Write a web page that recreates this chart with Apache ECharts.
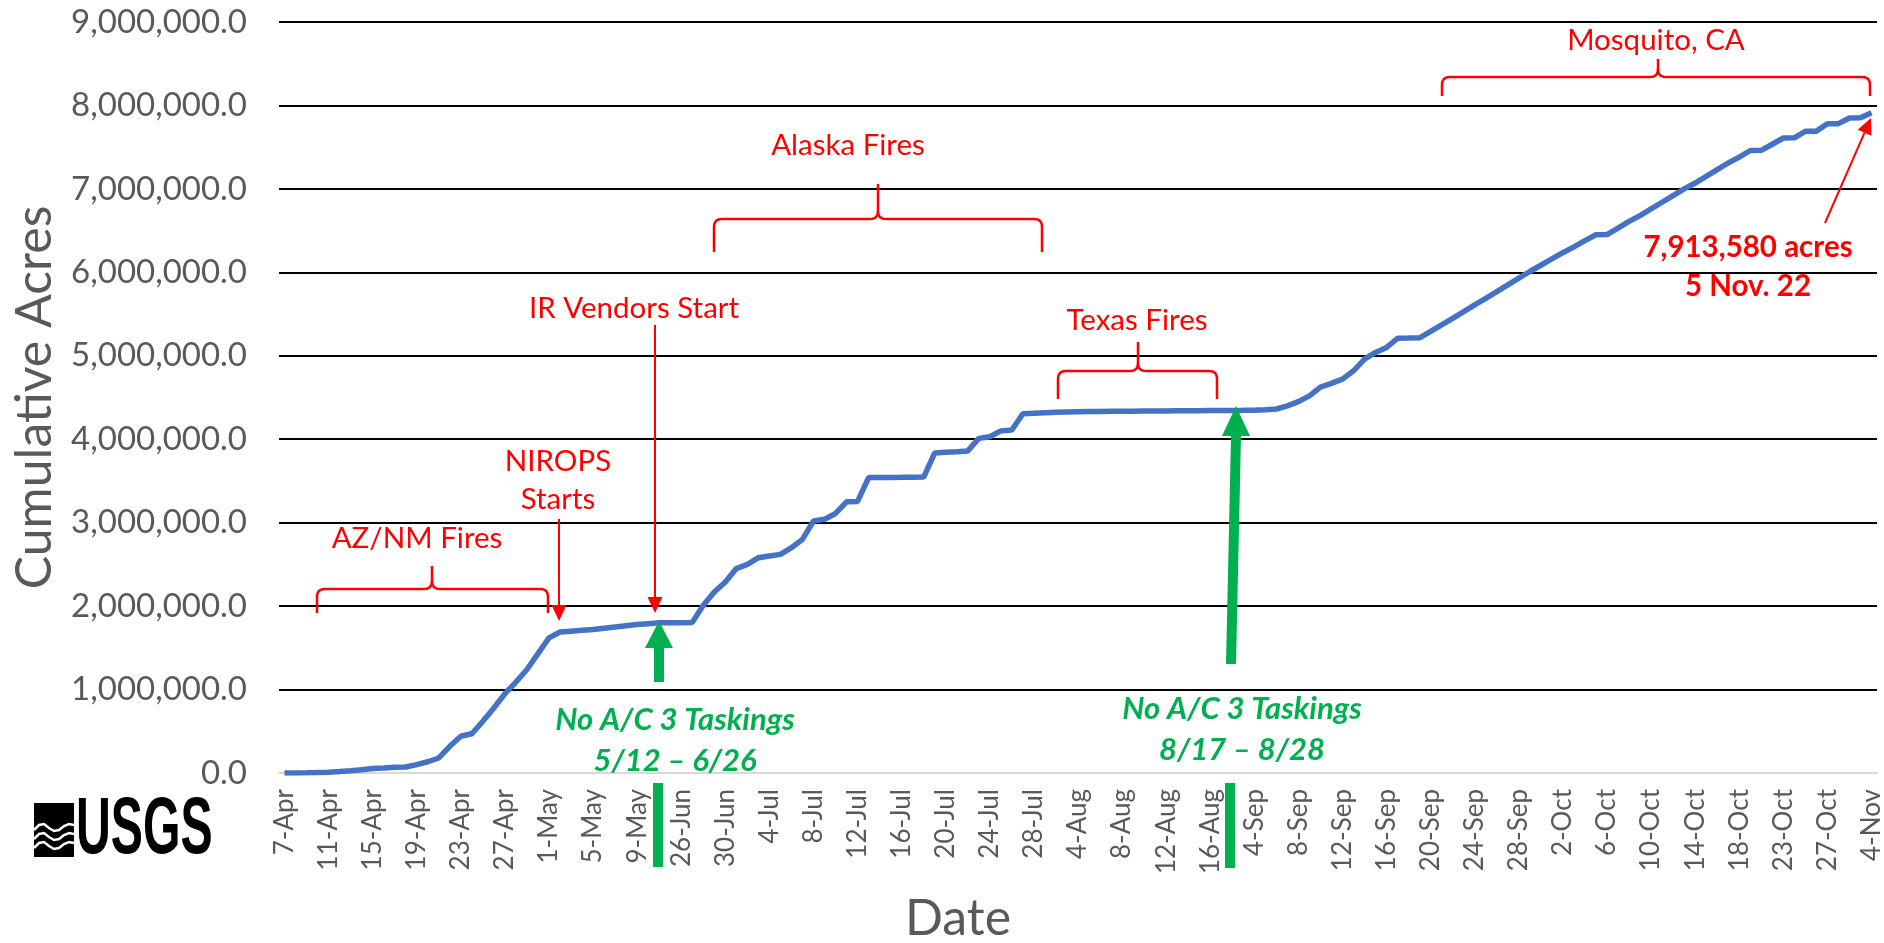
<!DOCTYPE html>
<html><head><meta charset="utf-8">
<script src="https://cdn.jsdelivr.net/npm/echarts@6/dist/echarts.min.js"></script>
<style>html,body{margin:0;padding:0;background:#fff}#chart{width:1884px;height:943px}</style>
</head><body><div id="chart"></div>
<script>
const dates = [
 '7-Apr','8-Apr','9-Apr','10-Apr','11-Apr','12-Apr','13-Apr','14-Apr','15-Apr','16-Apr','17-Apr','18-Apr',
 '19-Apr','20-Apr','21-Apr','22-Apr','23-Apr','24-Apr','25-Apr','26-Apr','27-Apr','28-Apr','29-Apr','30-Apr',
 '1-May','2-May','3-May','4-May','5-May','6-May','7-May','8-May','9-May','10-May','11-May','12-May',
 '26-Jun','27-Jun','28-Jun','29-Jun','30-Jun',
 '1-Jul','2-Jul','3-Jul','4-Jul','5-Jul','6-Jul','7-Jul','8-Jul','9-Jul','10-Jul','11-Jul','12-Jul','13-Jul',
 '14-Jul','15-Jul','16-Jul','17-Jul','18-Jul','19-Jul','20-Jul','21-Jul','22-Jul','23-Jul','24-Jul','25-Jul',
 '26-Jul','27-Jul','28-Jul','29-Jul','30-Jul','31-Jul',
 '4-Aug','5-Aug','6-Aug','7-Aug','8-Aug','9-Aug','10-Aug','11-Aug','12-Aug','13-Aug','14-Aug','15-Aug',
 '16-Aug','17-Aug','30-Aug','1-Sep',
 '4-Sep','5-Sep','6-Sep','7-Sep','8-Sep','9-Sep','10-Sep','11-Sep','12-Sep','13-Sep','14-Sep','15-Sep',
 '16-Sep','17-Sep','18-Sep','19-Sep','20-Sep','21-Sep','22-Sep','23-Sep','24-Sep','25-Sep','26-Sep','27-Sep',
 '28-Sep','29-Sep','30-Sep',
 '1-Oct','2-Oct','3-Oct','4-Oct','5-Oct','6-Oct','7-Oct','8-Oct','9-Oct','10-Oct','11-Oct','12-Oct',
 '13-Oct','14-Oct','15-Oct','16-Oct','17-Oct','18-Oct','19-Oct','20-Oct','21-Oct',
 '23-Oct','24-Oct','25-Oct','26-Oct','27-Oct','28-Oct','30-Oct','31-Oct','4-Nov'
];
const acres = [
 0,1000,3000,6000,10000,18000,28000,40000,55000,60000,68000,72000,
 100000,135000,180000,320000,440000,470000,620000,780000,950000,1090000,1240000,1430000,
 1620000,1690000,1700000,1710000,1720000,1735000,1750000,1765000,1780000,1790000,1800000,1800000,
 1800000,1805000,2010000,2170000,2290000,
 2450000,2500000,2580000,2600000,2620000,2700000,2800000,3020000,3040000,3110000,3250000,3255000,3540000,
 3540000,3542000,3543000,3545000,3546000,3835000,3845000,3850000,3860000,4010000,4030000,4100000,
 4110000,4305000,4312000,4318000,4322000,4326000,
 4330000,4332000,4333000,4334000,4335000,4336000,4337000,4338000,4339000,4340000,4341000,4342000,
 4343000,4344000,4345000,4346000,
 4348000,4352000,4362000,4400000,4450000,4520000,4625000,4670000,4720000,4820000,4960000,5040000,
 5100000,5210000,5212000,5215000,5292000,5370000,5448000,5530000,5610000,5688000,5768000,5850000,
 5930000,6010000,6085000,
 6160000,6235000,6305000,6380000,6450000,6452000,6530000,6610000,6680000,6760000,6840000,6920000,
 7000000,7070000,7150000,7230000,7310000,7380000,7460000,7462000,7535000,
 7610000,7612000,7690000,7692000,7780000,7782000,7850000,7852000,7913580
];
const yTicks = [0,1000000,2000000,3000000,4000000,5000000,6000000,7000000,8000000,9000000];

const RED = '#FF0000', GREEN = '#00B050', GRAY = '#595959';
const FONT = 'Lato';

function txt(text, x, y, size, color, weight, style) {
  return { type: 'text', z: 100, style: {
    text: text, x: x, y: y, fill: color, fontSize: size, fontFamily: FONT,
    fontWeight: weight || 'normal', fontStyle: style || 'normal',
    align: 'center', verticalAlign: 'middle', textAlign: 'center', textVerticalAlign: 'middle' } };
}
function qpts(p0, c, p1, n) {
  const out = [];
  for (let i = 1; i <= n; i++) {
    const t = i / n, a = (1 - t) * (1 - t), b = 2 * t * (1 - t), d = t * t;
    out.push([a * p0[0] + b * c[0] + d * p1[0], a * p0[1] + b * c[1] + d * p1[1]]);
  }
  return out;
}
function brace(x1, x2, yH, yEnd, tipX, tipY) {
  const r = 8;
  const left = [[x1, yEnd], [x1, yH + r]].concat(qpts([x1, yH + r], [x1, yH], [x1 + r, yH], 6))
    .concat([[tipX - r, yH]]).concat(qpts([tipX - r, yH], [tipX, yH], [tipX, yH - r], 6)).concat([[tipX, tipY]]);
  const right = [[tipX, yH - r]].concat(qpts([tipX, yH - r], [tipX, yH], [tipX + r, yH], 6))
    .concat([[x2 - r, yH]]).concat(qpts([x2 - r, yH], [x2, yH], [x2, yH + r], 6)).concat([[x2, yEnd]]);
  const st = { fill: null, stroke: RED, lineWidth: 2.5 };
  return [
    { type: 'polyline', z: 100, shape: { points: left }, style: st },
    { type: 'polyline', z: 100, shape: { points: right }, style: st }
  ];
}
function redArrow(x1, y1, x2, y2) {
  const dx = x2 - x1, dy = y2 - y1, L = Math.sqrt(dx * dx + dy * dy);
  const ux = dx / L, uy = dy / L, hl = 16, hw = 7.5;
  const bx = x2 - ux * hl, by = y2 - uy * hl;
  return [
    { type: 'line', z: 100, shape: { x1: x1, y1: y1, x2: bx, y2: by }, style: { stroke: RED, lineWidth: 2 } },
    { type: 'polygon', z: 100, shape: { points: [[x2, y2], [bx - uy * hw, by + ux * hw], [bx + uy * hw, by - ux * hw]] }, style: { fill: RED } }
  ];
}
function greenArrow(xb, yb, xt, yhb, ytip) {
  return { type: 'polygon', z: 100, shape: { points: [[xb - 5, yb], [xb + 5, yb], [xt + 5, yhb], [xt + 14, yhb], [xt, ytip], [xt - 14, yhb], [xt - 5, yhb]] }, style: { fill: GREEN } };
}
function wave(y) {
  return { type: 'polyline', z: 101, shape: { points: [[34, y], [39, y - 5], [44, y - 6], [49, y - 2], [54, y + 1], [59, y], [64, y - 4], [69, y - 6], [74, y - 5]] }, style: { fill: null, stroke: '#fff', lineWidth: 2.5 } };
}

const graphics = [
  ...brace(317, 548, 589, 613, 432, 566),
  ...brace(714, 1042, 219, 252, 878, 184),
  ...brace(1058, 1217, 371, 399, 1138, 342),
  ...brace(1442, 1870, 77, 96, 1658, 59),
  ...redArrow(559, 519, 559, 621),
  ...redArrow(655, 325, 655, 613),
  ...redArrow(1825, 223, 1871, 118),
  greenArrow(659, 682, 659, 648, 621),
  greenArrow(1231, 664, 1236, 436, 406),
  { type: 'rect', z: 100, shape: { x: 653, y: 783, width: 10, height: 84 }, style: { fill: GREEN } },
  { type: 'rect', z: 100, shape: { x: 1225, y: 783, width: 10, height: 85 }, style: { fill: GREEN } },
  txt('AZ/NM Fires', 417, 538, 29.5, RED),
  txt('NIROPS', 558, 461, 29.5, RED),
  txt('Starts', 558, 499, 29.5, RED),
  txt('IR Vendors Start', 634, 308, 29.5, RED),
  txt('Alaska Fires', 848, 145, 29.5, RED),
  txt('Texas Fires', 1137, 320, 29.5, RED),
  txt('Mosquito, CA', 1656, 40, 29.5, RED),
  txt('7,913,580 acres', 1748, 247, 29.5, RED, 'bold'),
  txt('5 Nov. 22', 1748, 286, 29.5, RED, 'bold'),
  txt('No A/C 3 Taskings', 675, 720, 31, GREEN, 'bold', 'italic'),
  txt('5/12 – 6/26', 675, 761, 31, GREEN, 'bold', 'italic'),
  txt('No A/C 3 Taskings', 1242, 709, 31, GREEN, 'bold', 'italic'),
  txt('8/17 – 8/28', 1242, 750, 31, GREEN, 'bold', 'italic'),
  // USGS logo
  { type: 'rect', z: 100, shape: { x: 34, y: 803, width: 40, height: 54 }, style: { fill: '#000' } },
  wave(830), wave(839), wave(848),
  { type: 'text', z: 100, x: 76, y: 831, scaleX: 0.67, scaleY: 1.1, style: { text: 'USGS', x: 0, y: 0, fill: '#000', fontSize: 72, fontWeight: 'bold', fontFamily: 'Liberation Sans', align: 'left', verticalAlign: 'middle', textAlign: 'left', textVerticalAlign: 'middle' } }
];

const chart = echarts.init(document.getElementById('chart'));
chart.setOption({
  animation: false,
  backgroundColor: '#fff',
  grid: { left: 279, right: 7, top: 22, bottom: 170, containLabel: false, outerBoundsMode: 'none' },
  xAxis: {
    type: 'category', data: dates, boundaryGap: true,
    name: 'Date', nameLocation: 'middle', nameGap: 121,
    nameTextStyle: { fontSize: 50, color: GRAY, fontFamily: FONT, padding: [0, 240, 0, 0] },
    axisLine: { lineStyle: { color: '#D9D9D9', width: 2 } },
    axisTick: { show: false },
    axisLabel: { interval: 3, rotate: 90, fontSize: 26, color: GRAY, fontFamily: FONT, margin: 16 },
    splitLine: { show: false }
  },
  yAxis: {
    type: 'value', min: 0, max: 9000000, interval: 1000000,
    name: 'Cumulative Acres', nameLocation: 'middle', nameGap: 218,
    nameTextStyle: { fontSize: 50, color: GRAY, fontFamily: FONT },
    axisLine: { show: false }, axisTick: { show: false },
    axisLabel: { fontSize: 33, color: GRAY, fontFamily: FONT, margin: 32,
      formatter: function (v) { return yTicks.indexOf(v) >= 0 ? v.toLocaleString('en-US', { minimumFractionDigits: 1, maximumFractionDigits: 1 }) : ''; } },
    splitLine: { show: true, showMinLine: false, lineStyle: { color: '#000', width: 2 } }
  },
  series: [{
    type: 'line', data: acres, showSymbol: false, symbol: 'none',
    lineStyle: { color: '#4472C4', width: 5.5 }, z: 5
  }],
  graphic: graphics
});
</script></body></html>
